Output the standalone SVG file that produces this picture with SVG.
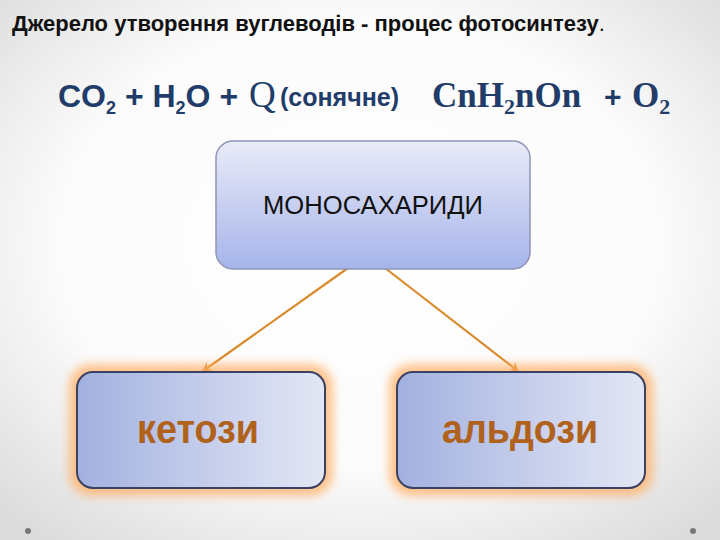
<svg xmlns="http://www.w3.org/2000/svg" width="720" height="540" viewBox="0 0 720 540">
<defs>
<radialGradient id="bg" cx="50%" cy="45%" r="70%">
<stop offset="0" stop-color="#ffffff"/>
<stop offset="0.6" stop-color="#fbfbfb"/>
<stop offset="1" stop-color="#dcdcdc"/>
</radialGradient>
<linearGradient id="topg" x1="0" y1="0" x2="0" y2="1">
<stop offset="0" stop-color="#e9ebf8"/>
<stop offset="1" stop-color="#a6b4ea"/>
</linearGradient>
<linearGradient id="botg" x1="0" y1="0" x2="1" y2="0">
<stop offset="0" stop-color="#a3b1e0"/>
<stop offset="1" stop-color="#e3e7f5"/>
</linearGradient>
<filter id="glow" x="-20%" y="-20%" width="140%" height="140%">
<feGaussianBlur stdDeviation="5"/>
</filter>
<marker id="arr" markerWidth="10" markerHeight="10" refX="8" refY="5" orient="auto" markerUnits="userSpaceOnUse">
<path d="M0,0 L9,5 L0,10 L3,5 z" fill="#d98a2a"/>
</marker>
<style>
.title{font-family:"Liberation Sans",Arial,sans-serif;font-weight:bold;font-size:22px;fill:#111}
.f{font-family:"Liberation Sans",Arial,sans-serif;font-weight:bold;fill:#223c6a}
.fs{font-family:"Liberation Serif","Times New Roman",serif;font-weight:bold;fill:#223c6a}
.q{font-family:"Liberation Serif","Times New Roman",serif;font-weight:normal;fill:#223c6a}
.lbl{font-family:"Liberation Sans",Arial,sans-serif;font-weight:bold;font-size:40px;fill:#b0621c;text-anchor:middle}
.conn{stroke:#d98a2a;stroke-width:2.2;fill:none}
</style>
</defs>
<rect width="720" height="540" fill="url(#bg)"/>
<text class="title" x="12" y="31">Джерело утворення вуглеводів - процес фотосинтезу<tspan style="font-weight:normal">.</tspan></text>
<g id="formula">
<text class="f" x="58" y="107" font-size="32">CO<tspan font-size="18" dy="7">2</tspan><tspan dy="-7"> + H</tspan><tspan font-size="18" dy="7">2</tspan><tspan dy="-7">O + </tspan></text>
<text class="q" x="249" y="107" font-size="37">Q</text>
<text class="f" x="280" y="106" font-size="25">(сонячне)</text>
<text class="fs" x="432" y="107" font-size="35">CnH<tspan font-size="22" dy="7">2</tspan><tspan dy="-7">nOn</tspan></text>
<text class="f" x="604" y="107" font-size="30">+</text>
<text class="fs" x="632" y="107" font-size="35">O<tspan font-size="22" dy="7">2</tspan></text>
</g>
<g id="connectors">
<line class="conn" x1="348" y1="268" x2="203" y2="371" marker-end="url(#arr)"/>
<line class="conn" x1="385" y1="268" x2="518" y2="371" marker-end="url(#arr)"/>
</g>
<g id="mono">
<rect x="216" y="141" width="314" height="128" rx="17" fill="url(#topg)" stroke="#8e95b5" stroke-width="1.5"/>
<text x="373" y="214" font-family="'Liberation Sans',Arial,sans-serif" font-size="26" fill="#111" text-anchor="middle" textLength="220" lengthAdjust="spacingAndGlyphs">МОНОСАХАРИДИ</text>
</g>
<g id="ketozy">
<rect x="69" y="364" width="264" height="132" rx="22" fill="#ffb066" opacity="0.75" filter="url(#glow)"/>
<rect x="77" y="372" width="248" height="116" rx="16" fill="url(#botg)" stroke="#3b4163" stroke-width="2"/>
<text class="lbl" x="198" y="443" textLength="122" lengthAdjust="spacingAndGlyphs">кетози</text>
</g>
<g id="aldozy">
<rect x="389" y="364" width="264" height="132" rx="22" fill="#ffb066" opacity="0.75" filter="url(#glow)"/>
<rect x="397" y="372" width="248" height="116" rx="16" fill="url(#botg)" stroke="#3b4163" stroke-width="2"/>
<text class="lbl" x="520" y="443" textLength="156" lengthAdjust="spacingAndGlyphs">альдози</text>
</g>
<circle cx="28" cy="531" r="3" fill="#777"/>
<circle cx="693" cy="531" r="3" fill="#777"/>
</svg>
